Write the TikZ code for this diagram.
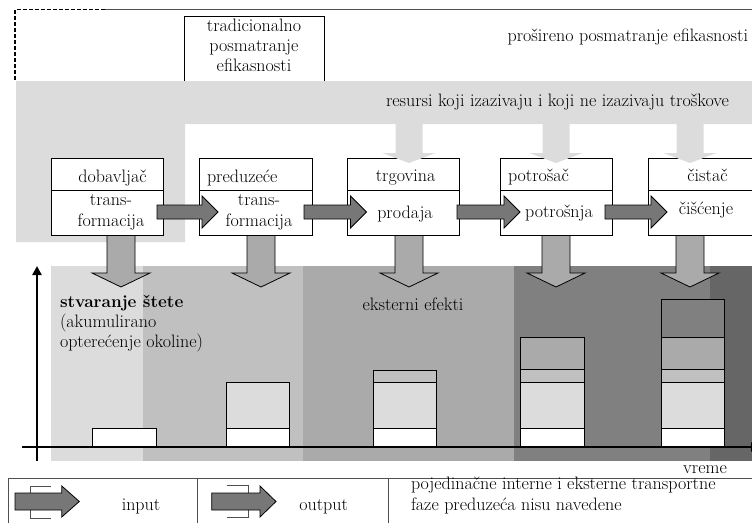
\documentclass[tikz,border=0pt]{standalone}
\usepackage{fontspec}
\usetikzlibrary{calc,arrows.meta}

\definecolor{gA}{HTML}{DCDCDC}
\definecolor{gB}{HTML}{C0C0C0}
\definecolor{gC}{HTML}{AAAAAA}
\definecolor{gD}{HTML}{808080}
\definecolor{gE}{HTML}{666666}
\definecolor{flowgray}{HTML}{777777}
\definecolor{framegray}{HTML}{505050}

% vertical block arrow: style, top point, tip, shaft half-width, head half-width, head length
\newcommand\vblockarrow[6]{%
  \draw[#1] let \p1=(#2), \p2=(#3) in
    (\x1-#4pt,\y1) -- (\x1+#4pt,\y1) -- (\x1+#4pt,\y2+#6pt) -- (\x1+#5pt,\y2+#6pt)
    -- (\x1,\y2) -- (\x1-#5pt,\y2+#6pt) -- (\x1-#4pt,\y2+#6pt) -- cycle;}
% horizontal block arrow: style, tail point, tip, shaft half-height, head half-height, head length
\newcommand\hblockarrow[6]{%
  \draw[#1] let \p1=(#2), \p2=(#3) in
    (\x1,\y1+#4pt) -- (\x2-#6pt,\y1+#4pt) -- (\x2-#6pt,\y1+#5pt) -- (\x2,\y1)
    -- (\x2-#6pt,\y1-#5pt) -- (\x2-#6pt,\y1-#4pt) -- (\x1,\y1-#4pt) -- cycle;}

\begin{document}
\begin{tikzpicture}[x=1pt,y=-1pt,
  every node/.style={font=\fontsize{18}{20.3}\selectfont, inner sep=0pt, outer sep=0pt},
  stagebox/.style={draw=black, line width=0.9pt, fill=white, minimum width=112pt, minimum height=77pt},
  divider/.style={draw=black, line width=0.9pt},
  flowarrow/.style={fill=flowgray, draw=black, line width=0.8pt, line join=miter},
  outarrow/.style={fill=gC, draw=black, line width=0.8pt, line join=miter},
  resarrow/.style={fill=gA, draw=none},
  barseg/.style={draw=black, line width=0.9pt},
  axisline/.style={line width=2.6pt, -{Triangle[length=9pt,width=9pt]}},
  legendline/.style={draw=framegray, line width=0.9pt},
  bracket/.style={draw=framegray, line width=0.8pt},
  lbl/.style={anchor=base}]
\useasboundingbox (0,0) rectangle (752,522);

% outer frame of the extended view
\draw[black, line width=1.5pt, dash pattern=on 4pt off 2pt] (15,80) -- (15,9.5) -- (105,9.5);
\draw[framegray, line width=0.9pt] (105,9.5) -- (770,9.5);

% traditional view box (lower part covered by the resource band)
\draw[black, line width=0.9pt] (184,100) -- (184,16) -- (324,16) -- (324,100);
% multi-line nodes: the base anchor sits on the last line
\node[lbl, align=center] (trad) at (254,71.7) {tradicionalno\\posmatranje\\efikasnosti};
\node[anchor=base east] (prosir) at (748,41.7) {prošireno posmatranje efikasnosti};

% resource band
\fill[gA] (16,81) -- (770,81) -- (770,124) -- (185,124) -- (185,242) -- (16,242) -- cycle;
\node[anchor=base west] (res) at (386,106.7) {resursi koji izazivaju i koji ne izazivaju troškove};

% lower chart background
\fill[gA] (50.7,266) rectangle (143,461);
\fill[gB] (143,266) rectangle (302.7,461);
\fill[gC] (302.7,266) rectangle (514,461);
\fill[gD] (514,266) rectangle (710,461);
\fill[gE] (710,266) rectangle (770,461);

% stage boxes
\node[stagebox] (dob) at (107,196.5) {};
\node[stagebox, minimum width=113pt] (pre) at (255.5,196.5) {};
\node[stagebox] (trg) at (403,196.5) {};
\node[stagebox] (pot) at (556,196.5) {};
\node[stagebox] (cis) at (704,196.5) {};
\foreach \b in {dob,pre,trg,pot,cis}
  \draw[divider] ($(\b.north west)+(0,32)$) -- ($(\b.north east)+(0,32)$);

% resources flowing into the later stages
\coordinate (r3) at (409,118);  \coordinate (t3) at (409,163);
\coordinate (r4) at (556,118);  \coordinate (t4) at (556,163);
\coordinate (r5) at (690,118);  \coordinate (t5) at (690,163);
\vblockarrow{resarrow}{r3}{t3}{13.5}{26.5}{10}
\vblockarrow{resarrow}{r4}{t4}{13.5}{26.5}{10}
\vblockarrow{resarrow}{r5}{t5}{13.5}{26.5}{10}

% flow between stages
\coordinate (h1a) at ($(dob.east)+(-6,15.5)$); \coordinate (h1b) at ($(pre.west)+(19,15.5)$);
\coordinate (h2a) at ($(pre.east)+(-8,15.5)$); \coordinate (h2b) at ($(trg.west)+(19.5,15.5)$);
\coordinate (h3a) at ($(trg.east)+(-2,15.5)$); \coordinate (h3b) at ($(pot.west)+(20,15.5)$);
\coordinate (h4a) at ($(pot.east)+(-7,15.5)$); \coordinate (h4b) at ($(cis.west)+(19,15.5)$);
\hblockarrow{flowarrow}{h1a}{h1b}{7}{16}{16}
\hblockarrow{flowarrow}{h2a}{h2b}{7}{16}{16}
\hblockarrow{flowarrow}{h3a}{h3b}{7}{16}{16}
\hblockarrow{flowarrow}{h4a}{h4b}{7}{16}{16}

% stage labels
\node[lbl] (dobT) at (112.5,182) {dobavljač};
\node[lbl, align=center] (dobB) at (111,226) {trans-\\formacija};
\node[anchor=base west] (preT) at (207,182) {preduzeće};
\node[lbl, align=center] (preB) at (259,226) {trans-\\formacija};
\node[lbl] (trgT) at (405.5,181) {trgovina};
\node[lbl] (trgB) at (405,218) {prodaja};
\node[anchor=base west] (potT) at (508,181) {potrošač};
\node[lbl] (potB) at (559,217.5) {potrošnja};
\node[lbl] (cisT) at (707.5,181) {čistač};
\node[lbl] (cisB) at (706,214) {čišćenje};

% outputs of each stage into the environment
\coordinate (o1) at (121,235.5); \coordinate (e1) at (121,287);
\coordinate (o2) at (261,235.5); \coordinate (e2) at (261,287);
\coordinate (o3) at (409,235.5); \coordinate (e3) at (409,287);
\coordinate (o4) at (556,235.5); \coordinate (e4) at (556,287);
\coordinate (o5) at (690,235.5); \coordinate (e5) at (690,287);
\vblockarrow{outarrow}{o1}{e1}{14}{29}{14}
\vblockarrow{outarrow}{o2}{e2}{14}{29}{14}
\vblockarrow{outarrow}{o3}{e3}{14}{29}{14}
\vblockarrow{outarrow}{o4}{e4}{14}{29}{14}
\vblockarrow{outarrow}{o5}{e5}{14}{29}{14}

% accumulated damage bars
\draw[barseg, fill=white] (92.3,428) rectangle (156.7,447);

\draw[barseg, fill=white] (226.7,428) rectangle (289.3,447);
\draw[barseg, fill=gA] (226.7,382.7) rectangle (289.3,428);

\draw[barseg, fill=white] (373.3,428) rectangle (436.7,447);
\draw[barseg, fill=gA] (373.3,382.7) rectangle (436.7,428);
\draw[barseg, fill=gB] (373.3,370) rectangle (436.7,382.7);

\draw[barseg, fill=white] (520.7,428) rectangle (584,447);
\draw[barseg, fill=gA] (520.7,382.7) rectangle (584,428);
\draw[barseg, fill=gB] (520.7,369.3) rectangle (584,382.7);
\draw[barseg, fill=gC] (520.7,337.7) rectangle (584,369.3);

\draw[barseg, fill=white] (661.7,428) rectangle (724,447);
\draw[barseg, fill=gA] (661.7,382.7) rectangle (724,428);
\draw[barseg, fill=gB] (661.7,369.3) rectangle (724,382.7);
\draw[barseg, fill=gC] (661.7,337.7) rectangle (724,369.3);
\draw[barseg, fill=gD] (661.7,299.3) rectangle (724,337.7);

% axes
\draw[axisline] (37,461) -- (37,266);
\draw[axisline] (22,447) -- (760,447);

\node[anchor=base west, align=left] (dmg) at (60,347.7)
  {{\fontsize{17.2}{20.3}\selectfont\bfseries stvaranje štete}\\(akumulirano\\opterećenje okoline)};
\node[lbl] (ext) at (413,310) {eksterni efekti};
\node[lbl] (time) at (705,473.3) {vreme};

% legend
\draw[legendline] (8.3,540) -- (8.3,478.5) -- (770,478.5);
\draw[legendline] (197.5,478.5) -- (197.5,540);
\draw[legendline] (388.5,478.5) -- (388.5,540);

\draw[bracket] (50.7,486) -- (30,486) -- (30,518) -- (50.7,518);
\coordinate (li1) at (15,501.5); \coordinate (li2) at (79.3,501.5);
\hblockarrow{flowarrow}{li1}{li2}{8.5}{15.5}{17.5}
\node[lbl] (lin) at (141,510) {input};

\draw[bracket] (226.7,485.7) -- (248.3,485.7) -- (248.3,517.5) -- (226.7,517.5);
\coordinate (lo1) at (211.7,501.5); \coordinate (lo2) at (276,501.5);
\hblockarrow{flowarrow}{lo1}{lo2}{8.5}{15.5}{16}
\node[lbl] (lout) at (323.7,510) {output};

\node[anchor=base west, align=left] (lnote) at (411,510)
  {pojedinačne interne i eksterne transportne\\faze preduzeća nisu navedene};
\end{tikzpicture}
\end{document}
